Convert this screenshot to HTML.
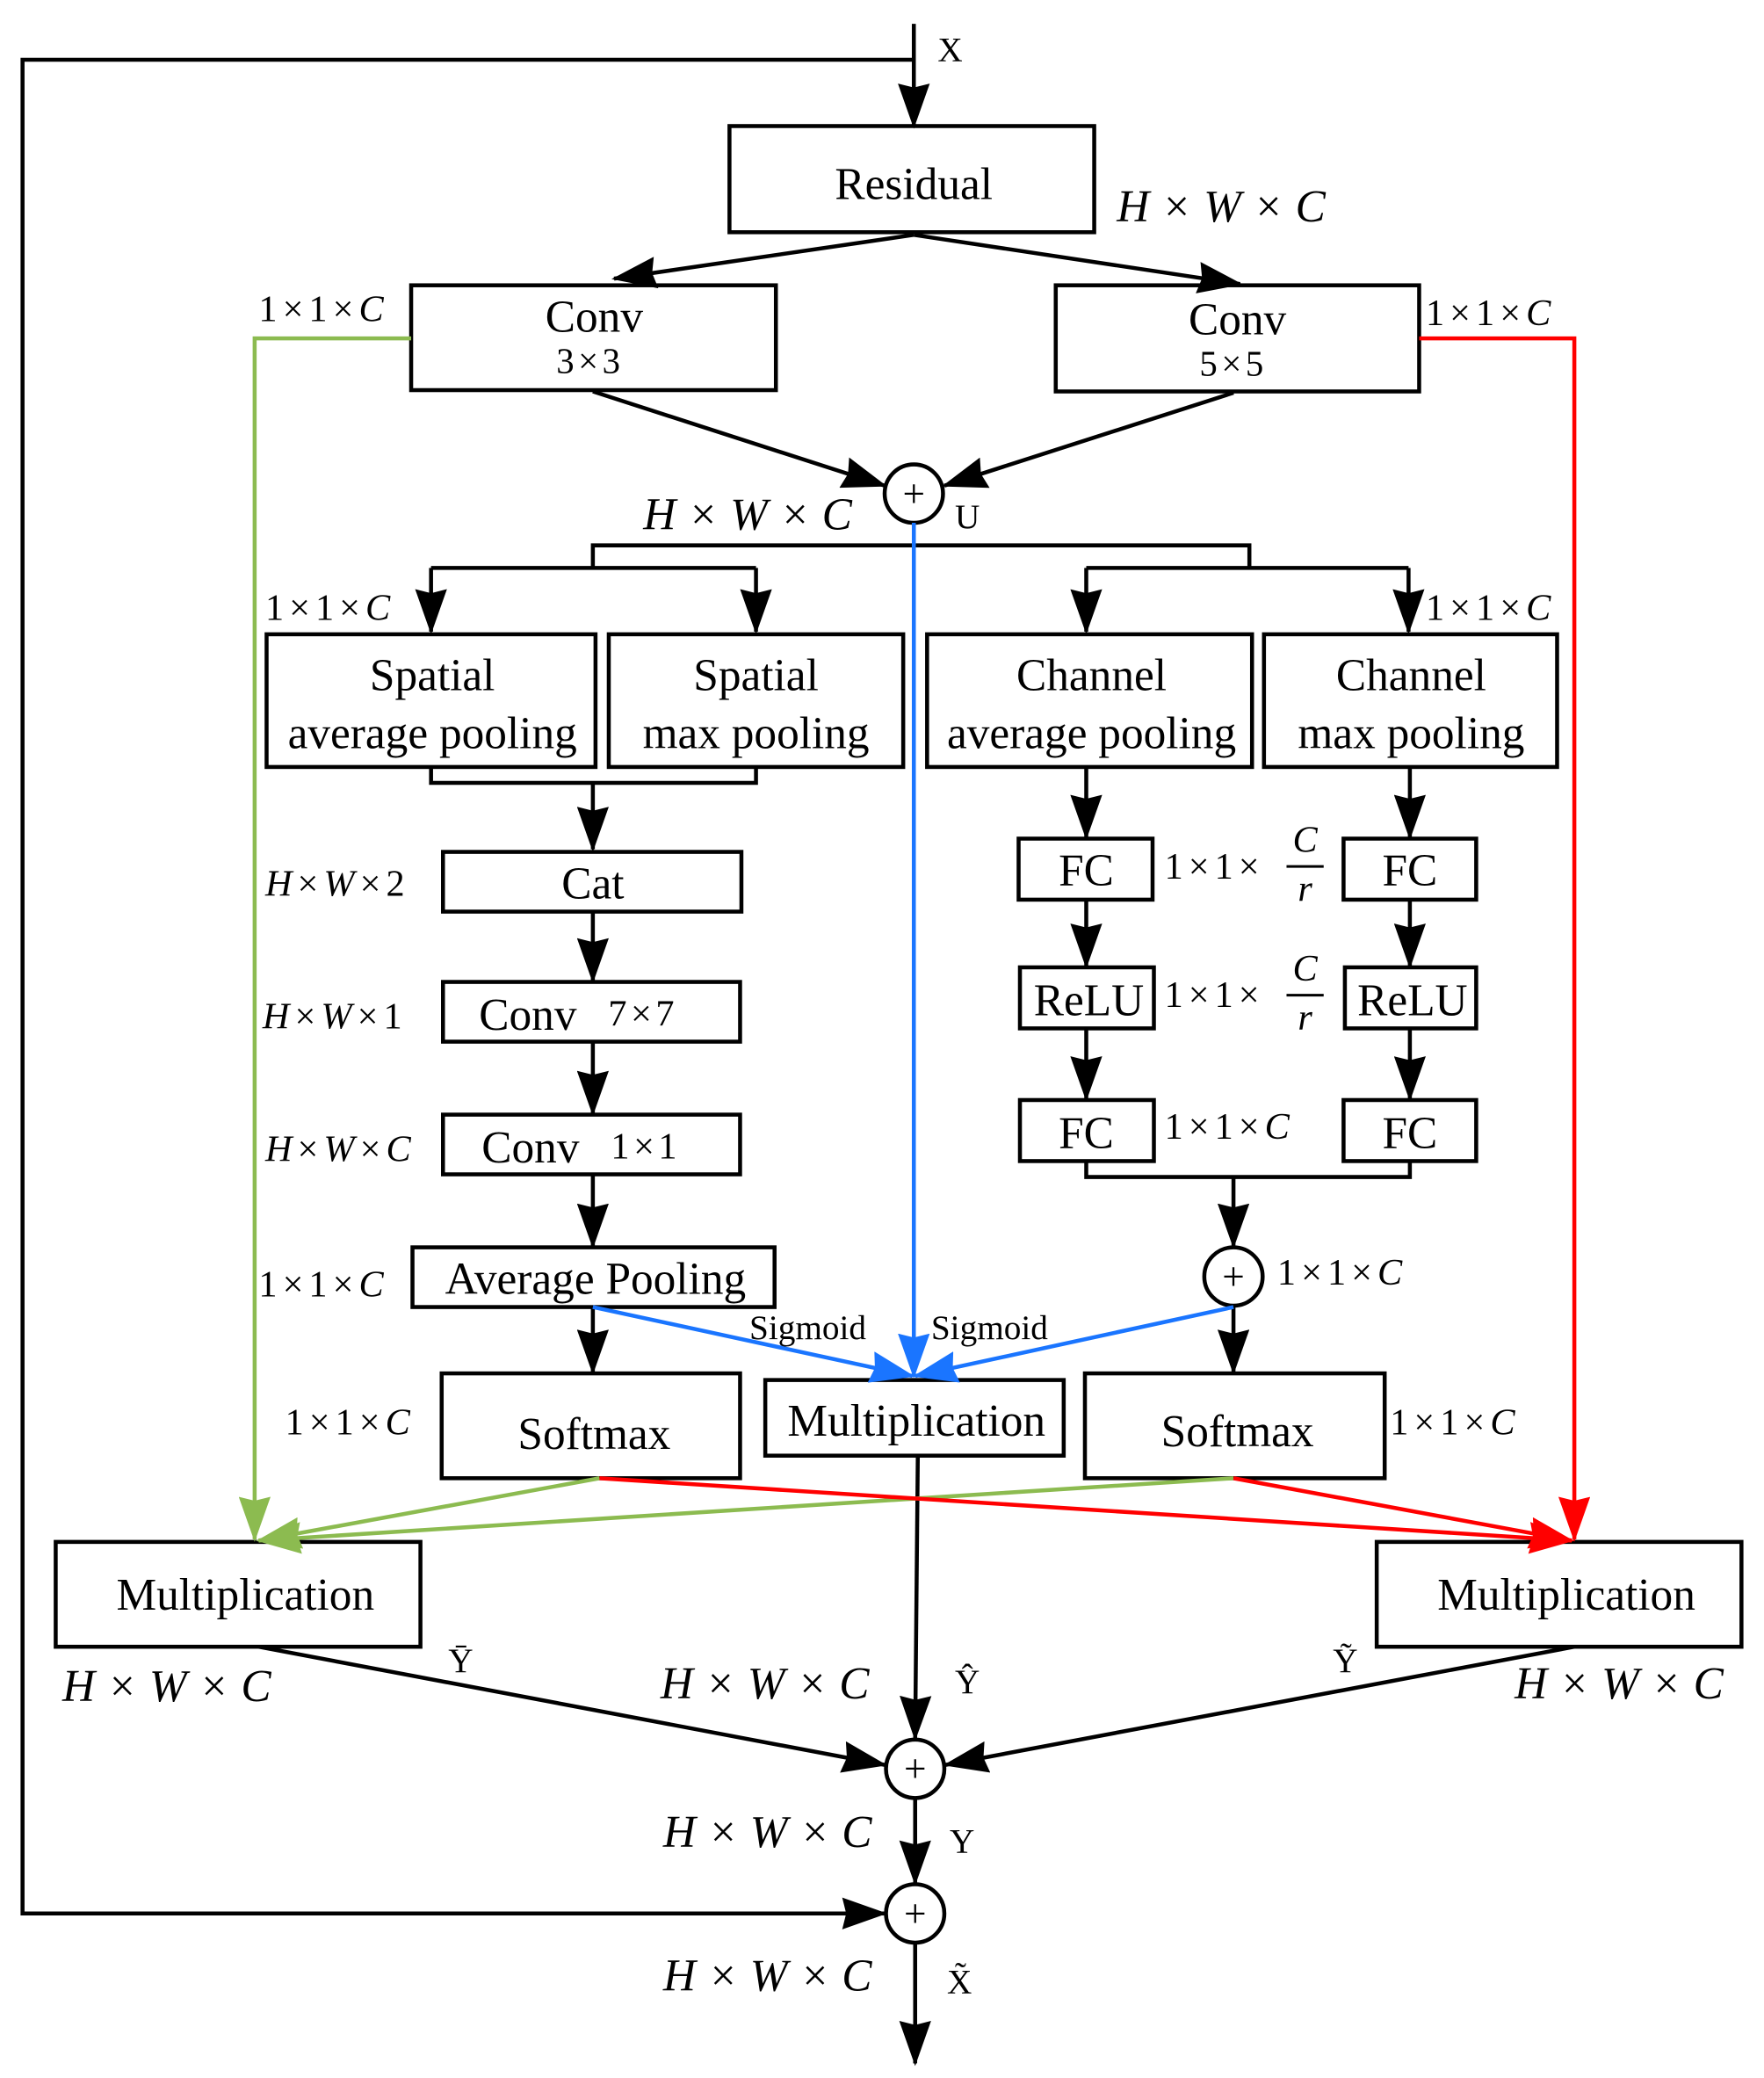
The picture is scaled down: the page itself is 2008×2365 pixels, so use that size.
<!DOCTYPE html>
<html><head><meta charset="utf-8"><style>html,body{margin:0;padding:0;background:#fff}svg{display:block}</style></head>
<body>
<svg width="2008" height="2365" viewBox="0 0 1330 1566" preserveAspectRatio="none" xmlns="http://www.w3.org/2000/svg" font-family="'Liberation Serif', serif">
<defs>
<marker id="ak" markerUnits="userSpaceOnUse" markerWidth="34" markerHeight="24" refX="32" refY="12" orient="auto"><path d="M0,0 L34,12 L0,24 L3,12 Z" fill="#000"/></marker>
<marker id="ab" markerUnits="userSpaceOnUse" markerWidth="34" markerHeight="24" refX="32" refY="12" orient="auto"><path d="M0,0 L34,12 L0,24 L3,12 Z" fill="#1a75ff"/></marker>
<marker id="ag" markerUnits="userSpaceOnUse" markerWidth="34" markerHeight="24" refX="32" refY="12" orient="auto"><path d="M0,0 L34,12 L0,24 L3,12 Z" fill="#8cbb50"/></marker>
<marker id="ar" markerUnits="userSpaceOnUse" markerWidth="34" markerHeight="24" refX="32" refY="12" orient="auto"><path d="M0,0 L34,12 L0,24 L3,12 Z" fill="#ff0000"/></marker>
</defs>
<g fill="none" stroke="#000" stroke-width="3">
<line x1="689" y1="18" x2="689" y2="95" marker-end="url(#ak)"/>
<polyline points="689,45 17,45 17,1442 667,1442" marker-end="url(#ak)"/>
<rect x="550" y="95" width="275" height="80"/>
<line x1="689" y1="177" x2="463" y2="210" marker-end="url(#ak)"/>
<line x1="689" y1="177" x2="935" y2="214" marker-end="url(#ak)"/>
<rect x="310" y="215" width="275" height="79"/>
<rect x="796" y="215" width="274" height="80"/>
<line x1="447" y1="295" x2="667" y2="366" marker-end="url(#ak)"/>
<line x1="930" y1="296" x2="712" y2="366" marker-end="url(#ak)"/>
<circle cx="689" cy="372" r="22"/>
<polyline points="447,428 447,411 942,411 942,428"/>
<line x1="325" y1="428" x2="570" y2="428"/>
<line x1="325" y1="428" x2="325" y2="476" marker-end="url(#ak)"/>
<line x1="570" y1="428" x2="570" y2="476" marker-end="url(#ak)"/>
<line x1="819" y1="428" x2="1062" y2="428"/>
<line x1="819" y1="428" x2="819" y2="476" marker-end="url(#ak)"/>
<line x1="1062" y1="428" x2="1062" y2="476" marker-end="url(#ak)"/>
<rect x="201" y="478" width="248" height="100"/>
<rect x="459" y="478" width="222" height="100"/>
<rect x="699" y="478" width="245" height="100"/>
<rect x="953" y="478" width="221" height="100"/>
<polyline points="325,578 325,590 570,590 570,578"/>
<line x1="447" y1="590" x2="447" y2="640" marker-end="url(#ak)"/>
<rect x="334" y="642" width="225" height="45"/>
<line x1="447" y1="687" x2="447" y2="739" marker-end="url(#ak)"/>
<rect x="334" y="740" width="224" height="45"/>
<line x1="447" y1="785" x2="447" y2="839" marker-end="url(#ak)"/>
<rect x="334" y="840" width="224" height="45"/>
<line x1="447" y1="885" x2="447" y2="939" marker-end="url(#ak)"/>
<rect x="311" y="940" width="273" height="45"/>
<line x1="447" y1="985" x2="447" y2="1034" marker-end="url(#ak)"/>
<rect x="333" y="1035" width="225" height="79"/>
<line x1="819" y1="578" x2="819" y2="631" marker-end="url(#ak)"/>
<line x1="1063" y1="578" x2="1063" y2="631" marker-end="url(#ak)"/>
<rect x="768" y="632" width="101" height="46"/>
<rect x="1013" y="632" width="100" height="46"/>
<line x1="819" y1="678" x2="819" y2="728" marker-end="url(#ak)"/>
<line x1="1063" y1="678" x2="1063" y2="728" marker-end="url(#ak)"/>
<rect x="769" y="729" width="101" height="46"/>
<rect x="1014" y="729" width="99" height="46"/>
<line x1="819" y1="775" x2="819" y2="828" marker-end="url(#ak)"/>
<line x1="1063" y1="775" x2="1063" y2="828" marker-end="url(#ak)"/>
<rect x="769" y="829" width="101" height="46"/>
<rect x="1013" y="829" width="100" height="46"/>
<polyline points="819,875 819,887 1063,887 1063,875"/>
<line x1="930" y1="887" x2="930" y2="939" marker-end="url(#ak)"/>
<circle cx="930" cy="962" r="22"/>
<line x1="930" y1="984" x2="930" y2="1034" marker-end="url(#ak)"/>
<rect x="818" y="1035" width="226" height="79"/>
<rect x="577" y="1040" width="225" height="57"/>
<line x1="692" y1="1097" x2="690" y2="1310" marker-end="url(#ak)"/>
<rect x="42" y="1162" width="275" height="79"/>
<rect x="1038" y="1162" width="275" height="79"/>
<line x1="195" y1="1241" x2="667" y2="1330" marker-end="url(#ak)"/>
<line x1="1187" y1="1241" x2="713" y2="1330" marker-end="url(#ak)"/>
<circle cx="690" cy="1333" r="22"/>
<line x1="690" y1="1355" x2="690" y2="1419" marker-end="url(#ak)"/>
<circle cx="690" cy="1442" r="22"/>
<line x1="690" y1="1464" x2="690" y2="1555" marker-end="url(#ak)"/>
</g>
<g fill="none" stroke-width="3">
<line x1="689" y1="394" x2="689" y2="1037" stroke="#1a75ff" marker-end="url(#ab)"/>
<line x1="447" y1="985" x2="688" y2="1037" stroke="#1a75ff" marker-end="url(#ab)"/>
<line x1="930" y1="985" x2="690" y2="1037" stroke="#1a75ff" marker-end="url(#ab)"/>
<polyline points="310,255 192,255 192,1160" stroke="#8cbb50" marker-end="url(#ag)"/>
<polyline points="1070,255 1187,255 1187,1160" stroke="#ff0000" marker-end="url(#ar)"/>
<line x1="452" y1="1114" x2="195" y2="1161" stroke="#8cbb50" marker-end="url(#ag)"/>
<line x1="930" y1="1114" x2="195" y2="1161" stroke="#8cbb50" marker-end="url(#ag)"/>
<line x1="452" y1="1114" x2="1185" y2="1161" stroke="#ff0000" marker-end="url(#ar)"/>
<line x1="930" y1="1114" x2="1185" y2="1161" stroke="#ff0000" marker-end="url(#ar)"/>
</g>
<g font-size="30" text-anchor="middle">
<text x="689" y="382">+</text><text x="930" y="972">+</text><text x="690" y="1343">+</text><text x="690" y="1452">+</text>
</g>
<g font-size="34" text-anchor="middle" fill="#000">
<text x="689" y="150">Residual</text>
<text x="448" y="250">Conv</text><text x="445" y="281" font-size="27" letter-spacing="3">3×3</text>
<text x="933" y="252">Conv</text><text x="930" y="283" font-size="27" letter-spacing="3">5×5</text>
<text x="326" y="520">Spatial</text><text x="326" y="564">average pooling</text>
<text x="570" y="520">Spatial</text><text x="570" y="564">max pooling</text>
<text x="823" y="520">Channel</text><text x="823" y="564">average pooling</text>
<text x="1064" y="520">Channel</text><text x="1064" y="564">max pooling</text>
<text x="447" y="677">Cat</text>
<text x="398" y="776">Conv</text><text x="485" y="773" font-size="28" letter-spacing="3">7×7</text>
<text x="400" y="876">Conv</text><text x="487" y="873" font-size="28" letter-spacing="3">1×1</text>
<text x="449" y="975">Average Pooling</text>
<text x="448" y="1092">Softmax</text>
<text x="933" y="1090">Softmax</text>
<text x="691" y="1082">Multiplication</text>
<text x="185" y="1213">Multiplication</text>
<text x="1181" y="1213">Multiplication</text>
<text x="819" y="667">FC</text><text x="1063" y="667">FC</text>
<text x="821" y="765">ReLU</text><text x="1065" y="765">ReLU</text>
<text x="819" y="865">FC</text><text x="1063" y="865">FC</text>
</g>
<g font-size="34" font-style="italic" fill="#000" letter-spacing="9">
<text x="842" y="167">H×W×C</text>
<text x="485" y="399">H×W×C</text>
<text x="47" y="1282">H×W×C</text>
<text x="498" y="1280">H×W×C</text>
<text x="1142" y="1280">H×W×C</text>
<text x="500" y="1392">H×W×C</text>
<text x="500" y="1500">H×W×C</text>
</g>
<g font-size="28" fill="#000" letter-spacing="4">
<text x="195" y="242">1×1×<tspan font-style="italic">C</tspan></text>
<text x="1075" y="245">1×1×<tspan font-style="italic">C</tspan></text>
<text x="200" y="467">1×1×<tspan font-style="italic">C</tspan></text>
<text x="1075" y="467">1×1×<tspan font-style="italic">C</tspan></text>
<text x="200" y="675"><tspan font-style="italic">H</tspan>×<tspan font-style="italic">W</tspan>×2</text>
<text x="198" y="775"><tspan font-style="italic">H</tspan>×<tspan font-style="italic">W</tspan>×1</text>
<text x="200" y="875"><tspan font-style="italic">H</tspan>×<tspan font-style="italic">W</tspan>×<tspan font-style="italic">C</tspan></text>
<text x="195" y="977">1×1×<tspan font-style="italic">C</tspan></text>
<text x="215" y="1081">1×1×<tspan font-style="italic">C</tspan></text>
<text x="1048" y="1081">1×1×<tspan font-style="italic">C</tspan></text>
<text x="963" y="968">1×1×<tspan font-style="italic">C</tspan></text>
<text x="878" y="858">1×1×<tspan font-style="italic">C</tspan></text>
<text x="878" y="662">1×1×</text>
<text x="878" y="759">1×1×</text>
</g>
<g font-size="28" fill="#000" font-style="italic" text-anchor="middle">
<text x="984" y="642">C</text><text x="984" y="679">r</text>
<text x="984" y="739">C</text><text x="984" y="776">r</text>
</g>
<line x1="970" y1="653" x2="998" y2="653" stroke="#000" stroke-width="2"/>
<line x1="970" y1="750" x2="998" y2="750" stroke="#000" stroke-width="2"/>
<g font-size="26" fill="#000">
<text x="565" y="1009">Sigmoid</text><text x="702" y="1009">Sigmoid</text>
<text x="707" y="46">X</text>
<text x="720" y="398">U</text>
<text x="338" y="1260">Ȳ</text>
<text x="1005" y="1260">Ỹ</text>
<text x="720" y="1276">Ŷ</text>
<text x="716" y="1396">Y</text>
<text x="714" y="1502">X̃</text>
</g>
</svg>
</body></html>
